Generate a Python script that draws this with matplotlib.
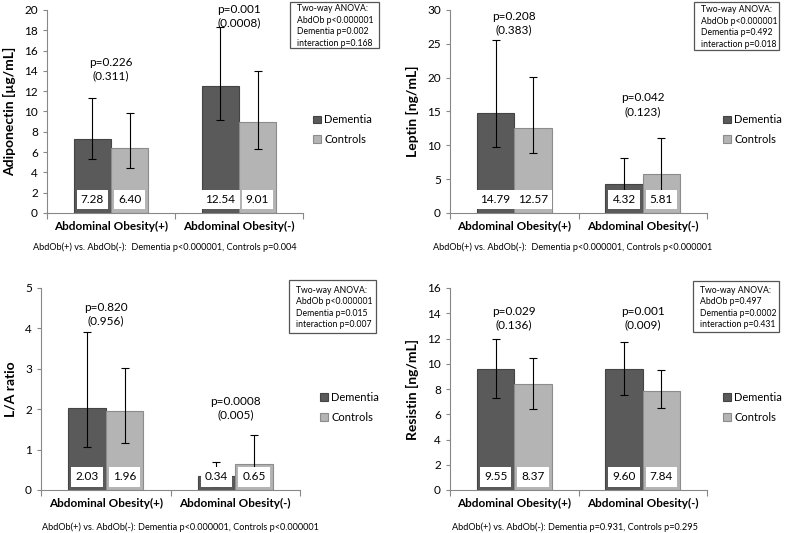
import numpy as np
import matplotlib
matplotlib.use('Agg')
from matplotlib import pyplot as plt
from matplotlib.patches import Rectangle
from matplotlib.transforms import blended_transform_factory

plt.rcParams['font.family'] = ['Lato', 'DejaVu Sans']

W, H = 785, 533

groups = ['Abdominal Obesity(+)', 'Abdominal Obesity(-)']
series = ['Dementia', 'Controls']
colors = ['#5a5a5a', '#b4b4b4']
edges = ['#444444', '#8c8c8c']

# panel data: means, lower / upper error bar ends
adipo_mean = [[7.28, 12.54], [6.40, 9.01]]
adipo_lo = [[5.3, 9.15], [4.45, 6.3]]
adipo_hi = [[11.35, 18.3], [9.85, 14.0]]
adipo_lab = [['7.28', '12.54'], ['6.40', '9.01']]

leptin_mean = [[14.79, 4.32], [12.57, 5.81]]
leptin_lo = [[9.8, 2.9], [8.8, 3.0]]
leptin_hi = [[25.6, 8.1], [20.1, 11.1]]
leptin_lab = [['14.79', '4.32'], ['12.57', '5.81']]

la_mean = [[2.03, 0.34], [1.96, 0.65]]
la_lo = [[1.07, 0.1], [1.17, 0.45]]
la_hi = [[3.9, 0.7], [3.02, 1.37]]
la_lab = [['2.03', '0.34'], ['1.96', '0.65']]

resis_mean = [[9.55, 9.60], [8.37, 7.84]]
resis_lo = [[7.25, 7.5], [6.45, 6.5]]
resis_hi = [[12.0, 11.75], [10.45, 9.5]]
resis_lab = [['9.55', '9.60'], ['8.37', '7.84']]

panels = [
    dict(rect=(47, 303, 10, 213), ymax=20, step=2, ylabel='Adiponectin [µg/mL]',
         mean=adipo_mean, lo=adipo_lo, hi=adipo_hi, lab=adipo_lab,
         ptext=['p=0.226\n(0.311)', 'p=0.001\n(0.0008)'], py=[14.2, 19.4],
         anova=['Two-way ANOVA:', 'AbdOb p<0.000001', 'Dementia p=0.002', 'interaction p=0.168'],
         box=(290, 379, 2, 48),
         foot='AbdOb(+) vs. AbdOb(-):  Dementia p<0.000001, Controls p=0.004', foot_xy=(165, 247),
         leg=(1.04, 0.41)),
    dict(rect=(450, 707, 10, 213), ymax=30, step=5, ylabel='Leptin [ng/mL]',
         mean=leptin_mean, lo=leptin_lo, hi=leptin_hi, lab=leptin_lab,
         ptext=['p=0.208\n(0.383)', 'p=0.042\n(0.123)'], py=[28.1, 16.0],
         anova=['Two-way ANOVA:', 'AbdOb p<0.000001', 'Dementia p=0.492', 'interaction p=0.018'],
         box=(694, 779, 2, 50),
         foot='AbdOb(+) vs. AbdOb(-):  Dementia p<0.000001, Controls p<0.000001', foot_xy=(573, 247),
         leg=(1.062, 0.41)),
    dict(rect=(41, 300, 288, 490), ymax=5, step=1, ylabel='L/A ratio',
         mean=la_mean, lo=la_lo, hi=la_hi, lab=la_lab,
         ptext=['p=0.820\n(0.956)', 'p=0.0008\n(0.005)'], py=[4.36, 2.03],
         anova=['Two-way ANOVA:', 'AbdOb p<0.000001', 'Dementia p=0.015', 'interaction p=0.007'],
         box=(289, 376, 280, 333),
         foot='AbdOb(+) vs. AbdOb(-): Dementia p<0.000001, Controls p<0.000001', foot_xy=(180, 527),
         leg=(1.077, 0.41)),
    dict(rect=(450, 707, 288, 490), ymax=16, step=2, ylabel='Resistin [ng/mL]',
         mean=resis_mean, lo=resis_lo, hi=resis_hi, lab=resis_lab,
         ptext=['p=0.029\n(0.136)', 'p=0.001\n(0.009)'], py=[13.6, 13.6],
         anova=['Two-way ANOVA:', 'AbdOb p=0.497', 'Dementia p=0.0002', 'interaction p=0.431'],
         box=(693, 779, 281, 332),
         foot='AbdOb(+) vs. AbdOb(-): Dementia p=0.931, Controls p=0.295', foot_xy=(575, 527),
         leg=(1.062, 0.41)),
]

fig = plt.figure(figsize=(W / 100, H / 100), dpi=100)

bw = 0.29
x = np.array([0.5, 1.5])
for p in panels:
    l, r, t, b = p['rect']
    ax = fig.add_axes([l / W, 1 - b / H, (r - l) / W, (b - t) / H])
    for i, s in enumerate(series):
        xs = x + (i - 0.5) * bw
        m = np.array(p['mean'][i])
        lo = m - np.array(p['lo'][i])
        hi = np.array(p['hi'][i]) - m
        ax.bar(xs, m, bw, color=colors[i], edgecolor=edges[i], linewidth=0.8, label=s, zorder=2)
        ax.errorbar(xs, m, yerr=[lo, hi], fmt='none', ecolor='black', elinewidth=0.8,
                    capsize=3, capthick=0.8, zorder=3)
        tr = blended_transform_factory(ax.transData, ax.transAxes)
        for xx, lab in zip(xs, p['lab'][i]):
            ax.text(xx, 0.065, lab, transform=tr, ha='center', va='center', fontsize=8.5,
                    zorder=5, bbox=dict(boxstyle='square,pad=0.35', fc='white', ec='none'))
    for xx, txt, yy in zip(x, p['ptext'], p['py']):
        ax.text(xx, yy, txt, ha='center', va='center', fontsize=8.5, linespacing=1.3)
    ax.set_xlim(0, 2)
    ax.set_ylim(0, p['ymax'])
    ax.set_yticks(np.arange(0, p['ymax'] + 0.01, p['step']))
    ax.set_xticks([0, 1, 2])
    ax.set_xticklabels([])
    ax.set_xticks(x, minor=True)
    ax.set_xticklabels(groups, minor=True, fontweight='bold', fontsize=8.5)
    ax.tick_params(axis='x', which='minor', length=0, pad=6)
    ax.tick_params(axis='x', which='major', length=4, color='#888888', direction='out')
    ax.tick_params(axis='y', labelsize=8.5, length=3, color='#888888')
    for sp in ['top', 'right']:
        ax.spines[sp].set_visible(False)
    for sp in ['left', 'bottom']:
        ax.spines[sp].set_color('#888888')
        ax.spines[sp].set_linewidth(0.8)
    ax.set_ylabel(p['ylabel'], fontweight='bold', fontsize=10, labelpad=6)
    ax.legend(loc='center left', bbox_to_anchor=p['leg'], frameon=False, fontsize=8,
              handlelength=0.7, handleheight=0.7, handletextpad=0.3, labelspacing=0.8,
              borderpad=0, borderaxespad=0)
    # ANOVA summary box
    x0, x1, y0, y1 = p['box']
    fig.patches.append(Rectangle((x0 / W, 1 - y1 / H), (x1 - x0) / W, (y1 - y0) / H,
                                 transform=fig.transFigure, fc='white', ec='#555555', lw=0.9))
    fig.text((x0 + 7) / W, 1 - ((y0 + y1) / 2 + 1) / H, '\n'.join(p['anova']), ha='left',
             va='center', fontsize=6.2, linespacing=1.35)
    fx, fy = p['foot_xy']
    fig.text(fx / W, 1 - fy / H, p['foot'], ha='center', va='center', fontsize=6.6)

fig.savefig('out.png', dpi=100)
